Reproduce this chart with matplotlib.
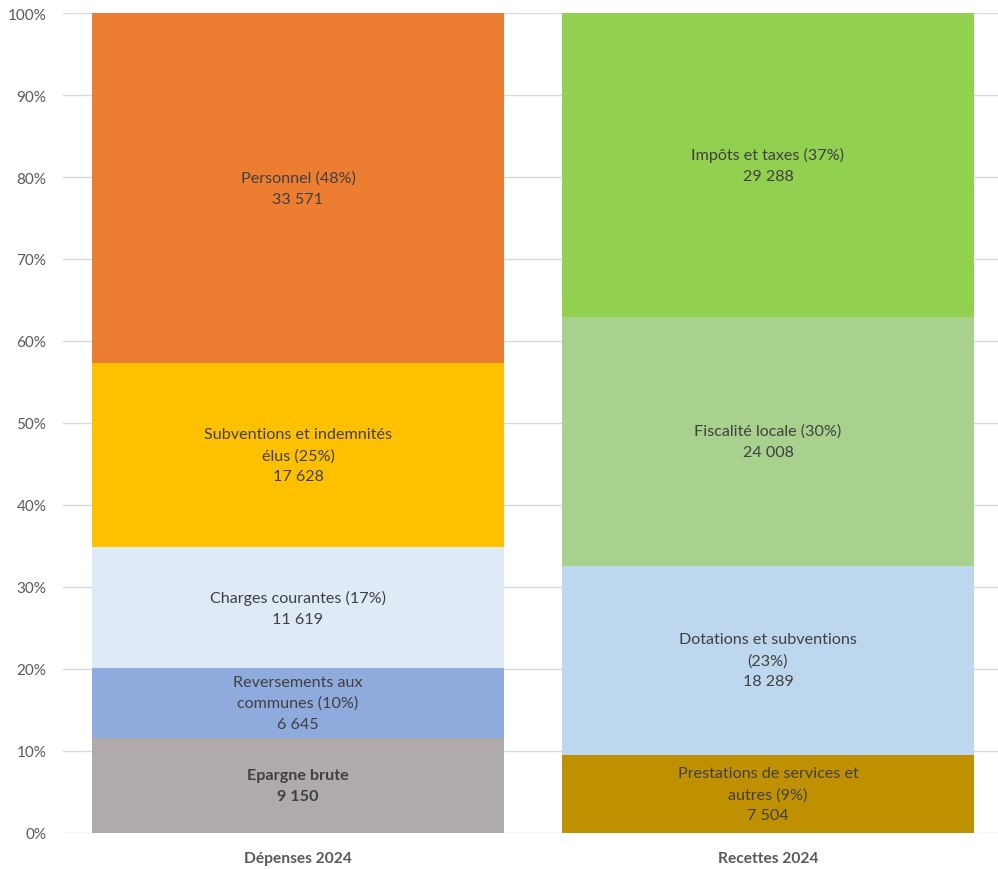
import matplotlib
matplotlib.use("Agg")
import matplotlib.pyplot as plt
import numpy as np

plt.rcParams['font.family'] = ['Lato', 'DejaVu Sans']

categories = ["Dépenses 2024", "Recettes 2024"]

dep_names = ["Epargne brute", "Reversements aux\ncommunes", "Charges courantes",
             "Subventions et indemnités\nélus", "Personnel"]
dep_values = [9150, 6645, 11619, 17628, 33571]
dep_pct = [None, 10, 17, 25, 48]
dep_colors = ["#AFABAB", "#8FAADC", "#DEEBF7", "#FFC000", "#ED7D31"]

rec_names = ["Prestations de services et\nautres", "Dotations et subventions\n",
             "Fiscalité locale", "Impôts et taxes"]
rec_values = [7504, 18289, 24008, 29288]
rec_pct = [9, 23, 30, 37]
rec_colors = ["#BF9000", "#BDD7EE", "#A9D18E", "#92D050"]

yticks = [0, 10, 20, 30, 40, 50, 60, 70, 80, 90, 100]


def fmt(v):
    return f"{v:,}".replace(",", " ")


fig = plt.figure(figsize=(9.98, 8.70), dpi=100)
ax = fig.add_axes([0.0631, 0.0414, 0.9419, 0.9425])

width = 0.877
txt_color = "#404040"


def stack(x, names, values, pcts, colors, bold_first=False):
    total = sum(values)
    shares = [v / total * 100 for v in values]
    bottom = 0
    for i, (n, v, p, c, s) in enumerate(zip(names, values, pcts, colors, shares)):
        ax.bar(x, s, width=width, bottom=bottom, color=c, zorder=2, linewidth=0)
        if p is None:
            label = f"{n}\n{fmt(v)}"
        else:
            if n.endswith("\n"):
                label = f"{n}({p}%)\n{fmt(v)}"
            else:
                label = f"{n} ({p}%)\n{fmt(v)}"
        weight = "bold" if (bold_first and i == 0) else "normal"
        ax.text(x, bottom + s / 2, label, ha="center", va="center",
                fontsize=11.6, color=txt_color, fontweight=weight,
                linespacing=1.62, zorder=3)
        bottom += s


stack(0, dep_names, dep_values, dep_pct, dep_colors, bold_first=True)
stack(1, rec_names, rec_values, rec_pct, rec_colors)

ax.set_xlim(-0.5, 1.5)
ax.set_ylim(0, 100)
ax.set_yticks(yticks)
ax.set_yticklabels([f"{t}%" for t in yticks], fontsize=11, color="#595959")
ax.set_xticks([0, 1])
ax.set_xticklabels(categories, fontsize=11.2, fontweight="bold", color="#595959")
ax.tick_params(axis="y", length=0, pad=12)
ax.tick_params(axis="x", length=0, pad=13)
ax.grid(axis="y", color="#D9D9D9", linewidth=1, zorder=0)
ax.set_axisbelow(True)
for s in ax.spines.values():
    s.set_visible(False)

fig.savefig("out.png", dpi=100)
